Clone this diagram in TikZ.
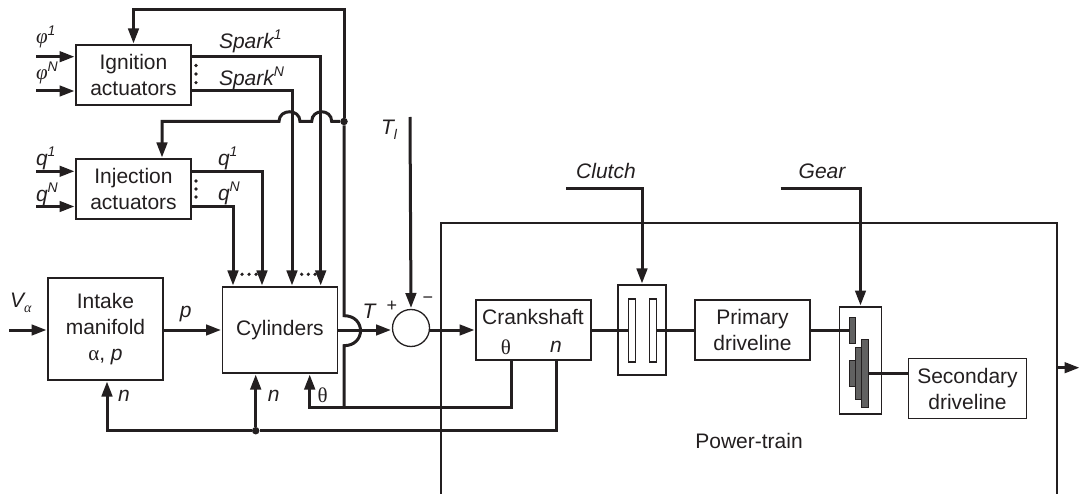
\documentclass[tikz,border=0pt]{standalone}
\usepackage{fontspec}
\setmainfont{Liberation Sans}
\newfontfamily\grfont{Liberation Serif}
\usetikzlibrary{arrows.meta}
\newcommand{\Upi}[1]{\raisebox{0.42em}{\fontsize{14}{14}\selectfont #1}}
\newcommand{\Dni}[1]{\raisebox{-0.22em}{\fontsize{14}{14}\selectfont #1}}
\definecolor{inkc}{HTML}{231F20}
\tikzset{
  txt/.style={inner sep=0pt, outer sep=0pt, text=inkc, align=center, font=\fontsize{21}{26}\selectfont},
  tag/.style={txt, font=\fontsize{21}{26}\selectfont\itshape},
  blockb/.style={draw=inkc, line width=1.3pt, fill=white, inner sep=0pt, outer sep=0pt, align=center,
                 text=inkc, font=\fontsize{21}{26}\selectfont},
  plate/.style={draw=inkc, line width=1.1pt, fill=white, inner sep=0pt, outer sep=0pt, minimum width=7.5pt, minimum height=63pt},
  cog/.style={draw=inkc, line width=1pt, fill=black!62, inner sep=0pt, outer sep=0pt},
  sig/.style={draw=inkc, line width=3pt},
  sigto/.style={sig, ->, shorten >=1.5pt},
  pip/.style={circle, fill=inkc, inner sep=0pt, minimum size=3.6pt},
  joint/.style={circle, fill=inkc, inner sep=0pt, minimum size=7.5pt}
}
\begin{document}
\begin{tikzpicture}[x=1pt, y=-1pt, >={Triangle[length=15pt, width=10.5pt]}]
  \useasboundingbox (0,0) rectangle (1081,494);
  % Power-train frame
  \coordinate (frametr) at (1057,223);
  \draw[inkc, line width=1.3pt] (441,494) -- (441,223) -- (frametr) -- (1057,494);
  \node[txt] (ptname) at (749,441) {Power-train};
  % Blocks
  \node[blockb, minimum width=115pt, minimum height=60pt] (ign) at (133.5,75) {Ignition\\actuators};
  \node[blockb, minimum width=115pt, minimum height=60pt] (inj) at (133.5,189) {Injection\\actuators};
  \node[blockb, minimum width=115pt, minimum height=102pt] (intake) at (105.5,329) {Intake\\manifold\\{\grfont α}, \textit{p}};
  \node[blockb, minimum width=115pt, minimum height=86pt] (cyl) at (280,330) {Cylinders};
  \node[circle, draw=inkc, line width=1.3pt, fill=white, inner sep=0pt, outer sep=0pt, minimum size=37pt] (sum) at (411,328) {};
  \node[blockb, minimum width=115pt, minimum height=60pt] (crank) at (533.5,330) {};
  \node[txt] (cranktxt) at (533,316.5) {Crankshaft};
  \node[txt, font=\fontsize{21}{26}\selectfont\grfont] (cranktheta) at (506,347) {θ};
  \node[tag] (crankn) at (556,347) {n};
  \node[blockb, minimum width=48pt, minimum height=90pt] (clutch) at (642,330) {};
  \node[blockb, minimum width=115pt, minimum height=60pt] (prim) at (752.5,330) {Primary\\driveline};
  \node[blockb, minimum width=42pt, minimum height=107pt] (gear) at (860.5,360.5) {};
  \node[blockb, minimum width=118pt, minimum height=60pt] (sec) at (967.5,388.5) {Secondary\\driveline};
  % Clutch plates
  \node[plate] (plateA) at (632,330.5) {};
  \node[plate] (plateB) at (653,330.5) {};
  % Gear wheels
  \node[cog, minimum width=6.5pt, minimum height=26pt] (cogA) at (852.5,330) {};
  \node[cog, minimum width=6.5pt, minimum height=26pt] (cogB) at (852.5,373) {};
  \node[cog, minimum width=6.5pt, minimum height=52pt] (cogC) at (859,373) {};
  \node[cog, minimum width=6.5pt, minimum height=68pt] (cogD) at (865,373) {};
  % Free ends
  \coordinate (phione) at (36,56.7);
  \coordinate (phinn) at (36,91);
  \coordinate (qone) at (36,171.3);
  \coordinate (qnn) at (36,206.5);
  \coordinate (valpha) at (9,330);
  \coordinate (tlstart) at (410,117);
  \coordinate (clutchstart) at (566,189);
  \coordinate (gearstart) at (780.5,189);
  \coordinate (outend) at (1081,367.7);
  \coordinate (sparkoneout) at (ign.east |- phione);
  \coordinate (sparknnout) at (ign.east |- phinn);
  \coordinate (qoneout) at (inj.east |- qone);
  \coordinate (qnnout) at (inj.east |- qnn);
  % Inputs
  \draw[sigto] (phione) -- (phione -| ign.west);
  \draw[sigto] (phinn) -- (phinn -| ign.west);
  \draw[sigto] (qone) -- (qone -| inj.west);
  \draw[sigto] (qnn) -- (qnn -| inj.west);
  \draw[sigto] (valpha) -- (valpha -| intake.west);
  % Actuators to cylinders
  \coordinate (cxa) at (233,0);
  \coordinate (cxb) at (262,0);
  \coordinate (cxc) at (292,0);
  \coordinate (cxd) at (320.7,0);
  \draw[sigto] (qnnout) -- (qnnout -| cxa) -- (cxa |- cyl.north);
  \draw[sigto] (qoneout) -- (qoneout -| cxb) -- (cxb |- cyl.north);
  \draw[sigto] (sparknnout) -- (sparknnout -| cxc) -- (cxc |- cyl.north);
  \draw[sigto] (sparkoneout) -- (sparkoneout -| cxd) -- (cxd |- cyl.north);
  % Theta feedback, with its jumps
  \node[joint] (thdot) at (344,121.5) {};
  \coordinate (thlow) at (344,407.7);
  \coordinate (thtop) at (344,9.5);
  \coordinate (thx) at (511,0);
  \coordinate (thin) at (309.7,0);
  \draw[sigto] (thx |- crank.south) -- (thx |- thlow) -- (thin |- thlow) -- (thin |- cyl.south);
  \draw[sig] (thlow) -- (344,345.7) .. controls +(22,0) and +(22,0) .. (344,315.7) -- (thdot);
  \draw[sigto] (thdot) -- (thtop) -- (thtop -| ign.north) -- (ign.north);
  \coordinate (injin) at (162,121.5);
  \draw[sigto] (thdot) -- (331.7,121.5) .. controls +(0,-13) and +(0,-13) .. (311.7,121.5) -- (300,121.5)
     .. controls +(0,-13) and +(0,-13) .. (279,121.5) -- (injin) -- (injin |- inj.north);
  % Speed feedback
  \node[joint] (ndot) at (255.7,430.7) {};
  \coordinate (nx) at (556.5,0);
  \coordinate (nin) at (107,0);
  \draw[sig] (nx |- crank.south) -- (nx |- ndot) -- (ndot);
  \draw[sigto] (ndot) -- (nin |- ndot) -- (nin |- intake.south);
  \draw[sigto] (ndot) -- (ndot |- cyl.south);
  % Forward path
  \draw[sigto] (intake.east |- valpha) -- (cyl.west |- valpha);
  \draw[sigto] (cyl.east |- valpha) -- (sum.west |- valpha);
  \draw[sigto] (sum.east |- valpha) -- (crank.west |- valpha);
  \draw[sigto] (tlstart) -- (sum.north);
  \draw[sig] (crank.east) -- (plateA.west |- crank.east);
  \draw[sig] (plateB.east |- prim.west) -- (prim.west);
  \draw[sig] (prim.east) -- (cogA.west);
  \draw[sig] (cogD.east) -- (sec.west |- cogD.east);
  \draw[sigto] (clutchstart) -- (clutchstart -| clutch.north) -- (clutch.north);
  \draw[sigto] (gearstart) -- (gearstart -| gear.north) -- (gear.north);
  \draw[sigto] (outend -| frametr) -- (outend);
  % Dots
  \foreach \k/\yy in {a/65.5,b/74,c/82.7} \node[pip] (ignpip\k) at (196,\yy) {};
  \foreach \k/\yy in {a/181,b/189,c/197} \node[pip] (injpip\k) at (196,\yy) {};
  \foreach \k/\xx in {a/242,b/249,c/256,d/301.7,e/308.3,f/315} \node[pip] (cylpip\k) at (\xx,274.3) {};
  % Labels
  \node[tag, anchor=west] (philaba) at (36,37) {{\grfont φ}\Upi{1}};
  \node[tag, anchor=west] (philabn) at (36,73) {{\grfont φ}\Upi{N}};
  \node[tag, anchor=west] (qlaba) at (36,158) {q\Upi{1}};
  \node[tag, anchor=west] (qlabn) at (36,194) {q\Upi{N}};
  \node[tag, anchor=west] (sparklaba) at (219,41) {Spark\Upi{1}};
  \node[tag, anchor=west] (sparklabn) at (219,78) {Spark\Upi{N}};
  \node[tag, anchor=west] (qoutlaba) at (218,158) {q\Upi{1}};
  \node[tag, anchor=west] (qoutlabn) at (218,193) {q\Upi{N}};
  \node[tag, anchor=west] (vlab) at (10,303) {V\Dni{\grfont α}};
  \node[tag] (plab) at (185.7,314) {p};
  \node[tag] (tlab) at (369,311.7) {T};
  \node[txt, font=\fontsize{18}{20}\selectfont] (pluslab) at (392,306.5) {+};
  \node[txt, font=\fontsize{18}{20}\selectfont] (minuslab) at (428,300) {\textminus};
  \node[tag, anchor=west] (tllab) at (381,130) {T\Dni{l}};
  \node[tag] (nlaba) at (124,396) {n};
  \node[tag] (nlabb) at (273.7,396) {n};
  \node[txt, font=\fontsize{21}{26}\selectfont\grfont] (thlab) at (322.7,395) {θ};
  \node[tag] (clutchlab) at (606,171) {Clutch};
  \node[tag] (gearlab) at (822,171) {Gear};
\end{tikzpicture}
\end{document}
